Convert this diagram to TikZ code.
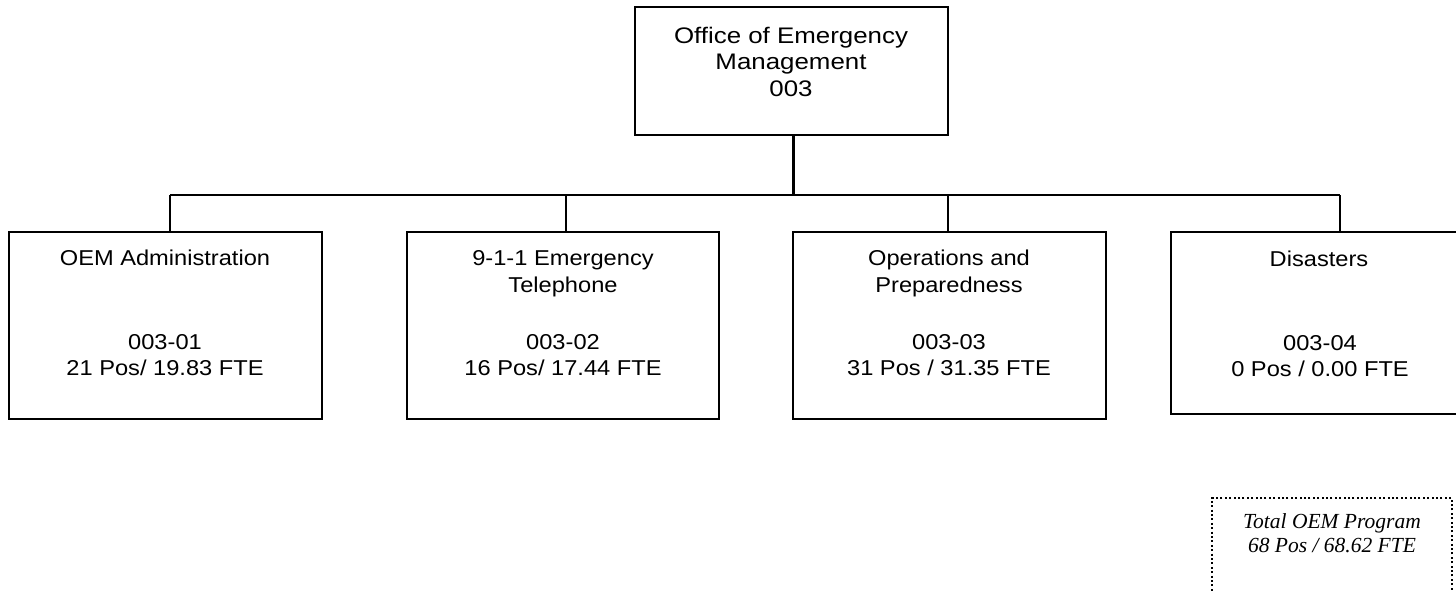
\documentclass[tikz,border=0pt]{standalone}
\usepackage{fontspec}
\setmainfont{Liberation Sans}
\newfontfamily\notefont{Liberation Serif}
% horizontally widened lettering, as set in the chart boxes
\newcommand{\unitline}[1]{\scalebox{1.1}[1]{#1}}
\newcommand{\headline}[1]{\scalebox{1.15}[1]{#1}}
\begin{document}
\begin{tikzpicture}[x=1pt,y=-1pt,
  unitbox/.style={draw,line width=2pt,rectangle,inner sep=0pt,outer sep=0pt,anchor=north west},
  lbl/.style={anchor=base,inner sep=0pt,font=\fontsize{21.5}{26}\selectfont},
  headlbl/.style={anchor=base,inner sep=0pt,font=\fontsize{22.5}{26}\selectfont},
  link/.style={line width=2.5pt},
  totalbox/.style={draw,line width=2pt,dash pattern=on 2pt off 2.4pt,rectangle,inner sep=0pt,outer sep=0pt,anchor=north west},
  note/.style={anchor=base,inner sep=0pt,font=\fontsize{21.5}{25}\selectfont\notefont\itshape}]
\useasboundingbox (0,0) rectangle (1456,590);
\clip (0,0) rectangle (1456,590);

% department head
\node[unitbox,minimum width=313pt,minimum height=128pt] (top) at (635,7) {};
\node[headlbl] (topA) at (791,43) {\headline{Office of Emergency}};
\node[headlbl] (topB) at (791,69) {\headline{Management}};
\node[headlbl] (topC) at (791,96) {\headline{003}};

% divisions
\node[unitbox,minimum width=313pt,minimum height=187pt] (b1) at (9,232) {};
\node[unitbox,minimum width=312pt,minimum height=187pt] (b2) at (407,232) {};
\node[unitbox,minimum width=313pt,minimum height=187pt] (b3) at (793,232) {};
\node[unitbox,minimum width=310pt,minimum height=182pt] (b4) at (1171,232) {};

\node[lbl] (b1a) at (165,265) {\unitline{OEM Administration}};
\node[lbl] (b1c) at (165,349) {\unitline{003-01}};
\node[lbl] (b1d) at (165,375) {\unitline{21 Pos/ 19.83 FTE}};

\node[lbl] (b2a) at (563,265) {\unitline{9-1-1 Emergency}};
\node[lbl] (b2b) at (563,292) {\unitline{Telephone}};
\node[lbl] (b2c) at (563,349) {\unitline{003-02}};
\node[lbl] (b2d) at (563,375) {\unitline{16 Pos/ 17.44 FTE}};

\node[lbl] (b3a) at (949,265) {\unitline{Operations and}};
\node[lbl] (b3b) at (949,292) {\unitline{Preparedness}};
\node[lbl] (b3c) at (949,349) {\unitline{003-03}};
\node[lbl] (b3d) at (949,375) {\unitline{31 Pos / 31.35 FTE}};

\node[lbl] (b4a) at (1319,266) {\unitline{Disasters}};
\node[lbl] (b4c) at (1320,350) {\unitline{003-04}};
\node[lbl] (b4d) at (1320,376) {\unitline{0 Pos / 0.00 FTE}};

% reporting lines
\coordinate (hub) at (793,195);
\coordinate (j1) at (170,195);
\coordinate (j2) at (566,195);
\coordinate (j3) at (948,195);
\coordinate (j4) at (1340,195);
\draw[line width=3pt] (top.south -| hub) -- (hub);
\draw[line width=2pt] (j1) -- (j4);
\draw[link] (j1) -- (b1.north -| j1);
\draw[link] (j2) -- (b2.north -| j2);
\draw[link] (j3) -- (b3.north -| j3);
\draw[link] (j4) -- (b4.north -| j4);

% program total
\node[totalbox,minimum width=240pt,minimum height=120pt] (total) at (1212,498) {};
\node[note] (totA) at (1332,528) {Total OEM Program};
\node[note] (totB) at (1332,552) {68 Pos / 68.62 FTE};
\end{tikzpicture}
\end{document}
